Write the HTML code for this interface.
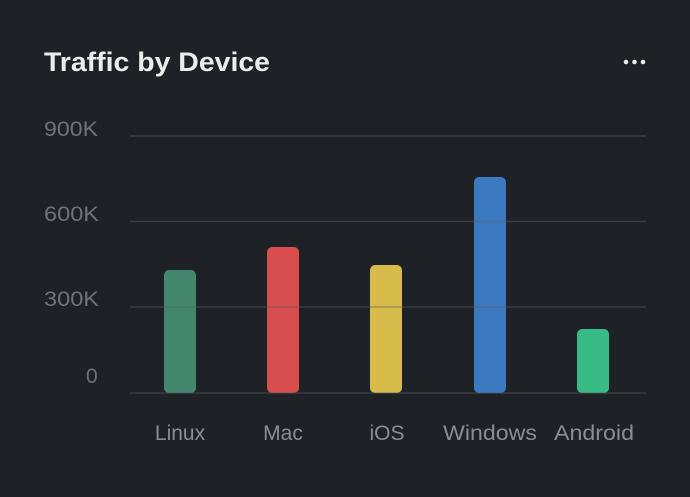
<!DOCTYPE html>
<html><head><style>
html,body{margin:0;padding:0;background:#1e2226;}
body{width:690px;height:492px;overflow:hidden;font-family:"Liberation Sans",sans-serif;}
</style></head><body>
<svg width="690" height="492" xmlns="http://www.w3.org/2000/svg">
<rect x="0" y="0" width="690" height="492" fill="#1e2226"/>
<text x="44" y="71" fill="#ececec" font-size="27" font-weight="bold" font-family="Liberation Sans, sans-serif" textLength="226" lengthAdjust="spacingAndGlyphs">Traffic by Device</text>
<circle cx="626" cy="62" r="2.3" fill="#ececec"/><circle cx="634.5" cy="62" r="2.3" fill="#ececec"/><circle cx="643" cy="62" r="2.3" fill="#ececec"/>
<g font-size="21" fill="#6f7377" font-family="Liberation Sans, sans-serif">
<text x="44" y="136" textLength="54" lengthAdjust="spacingAndGlyphs">900K</text>
<text x="44" y="221" textLength="55" lengthAdjust="spacingAndGlyphs">600K</text>
<text x="44" y="306" textLength="55" lengthAdjust="spacingAndGlyphs">300K</text>
<text x="86" y="383">0</text>
</g>
<g>
<rect x="164" y="270" width="32" height="123" rx="5" fill="#42876d"/>
<rect x="267" y="247" width="32" height="146" rx="5" fill="#d84d4e"/>
<rect x="370" y="265" width="32" height="128" rx="5" fill="#d7bc4b"/>
<rect x="474" y="177" width="32" height="216" rx="5" fill="#3b79c0"/>
<rect x="577" y="329" width="32" height="64" rx="5" fill="#38bb85"/>
</g>
<g stroke="#5a5e62" stroke-width="1.5" opacity="0.45">
<line x1="130" y1="136" x2="646" y2="136"/><line x1="130" y1="221.5" x2="646" y2="221.5"/><line x1="130" y1="307" x2="646" y2="307"/><line x1="130" y1="393" x2="646" y2="393"/>
</g>
<g font-size="21" fill="#8a8e92" text-anchor="middle" font-family="Liberation Sans, sans-serif">
<text x="180" y="440">Linux</text><text x="283" y="440">Mac</text><text x="387" y="440">iOS</text><text x="490" y="440" textLength="94" lengthAdjust="spacingAndGlyphs">Windows</text><text x="594" y="440" textLength="80" lengthAdjust="spacingAndGlyphs">Android</text>
</g>
</svg>
</body></html>
